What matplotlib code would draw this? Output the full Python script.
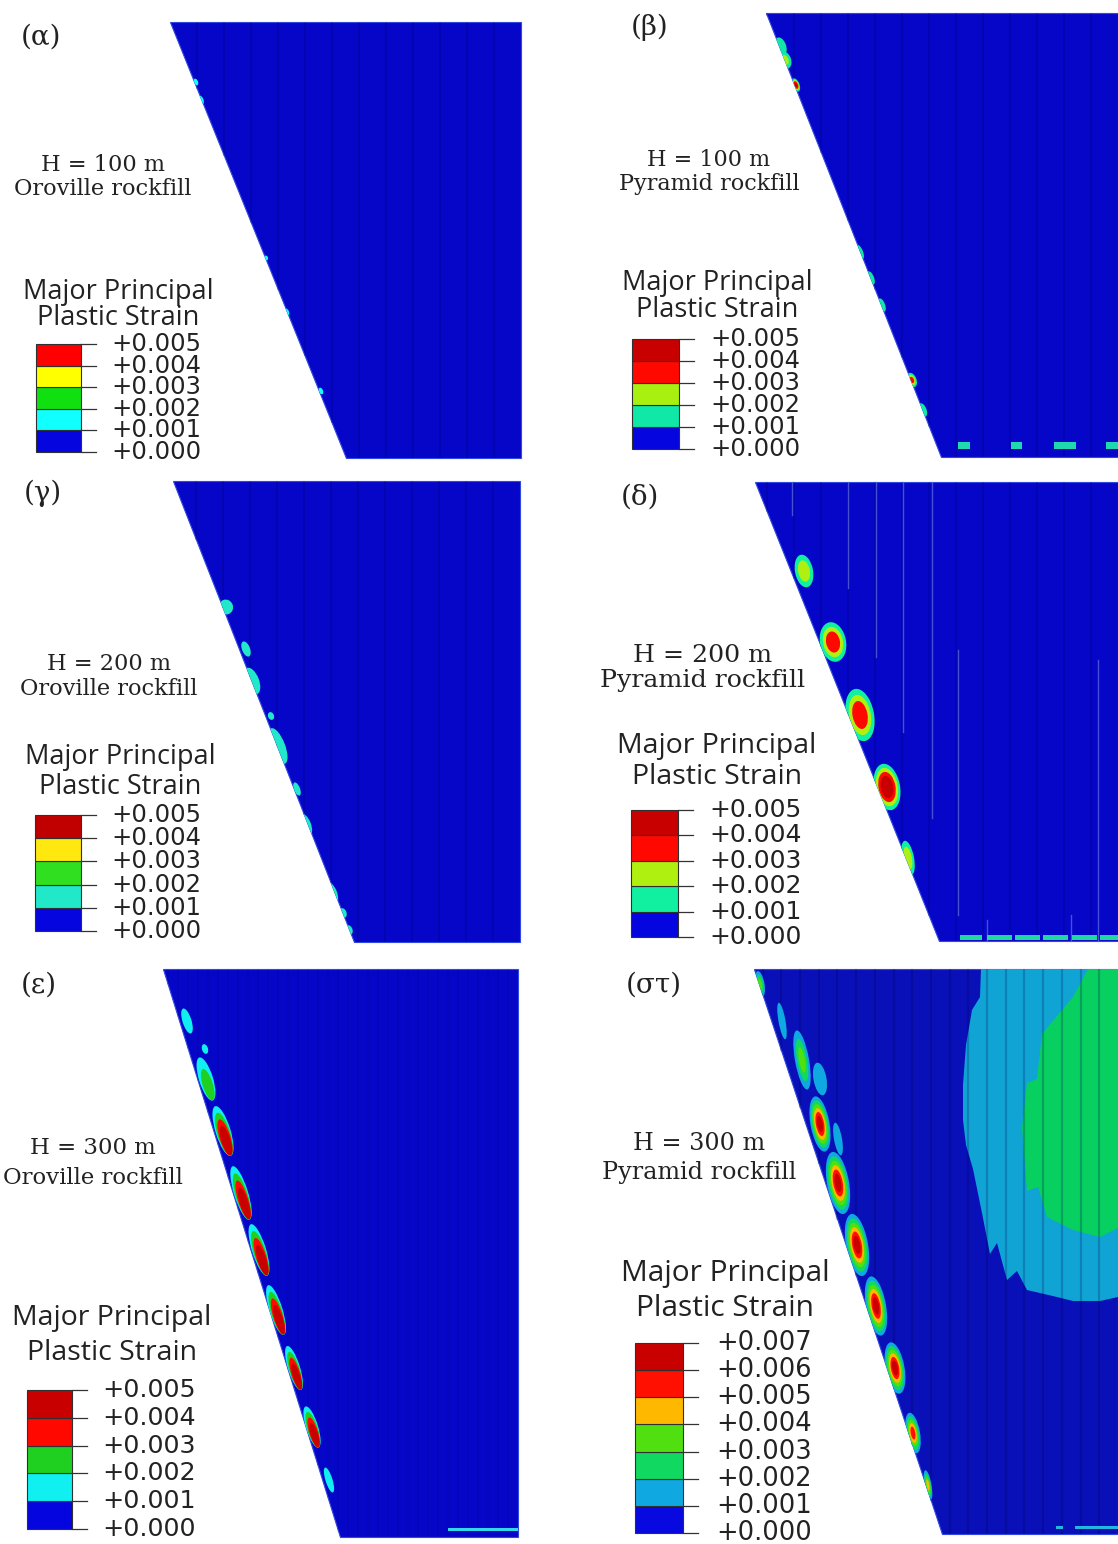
import numpy as np
import matplotlib
matplotlib.use('Agg')
import matplotlib.pyplot as plt
from matplotlib.patches import Polygon, Ellipse, Rectangle

BLUE = '#0606c8'

# panel outlines, picture pixels: top-left x, top y, right x, bottom y, bottom-left x
panel_names = ['(α)', '(β)', '(γ)', '(δ)', '(ε)', '(στ)']
panel_top_left = [170, 766, 173, 755, 163, 754]
panel_bottom_left = [346, 941, 354, 939, 340, 942]
panel_right = [521, 1118, 520, 1118, 518, 1118]
panel_top = [22, 13, 481, 482, 969, 969]
panel_bottom = [458, 457, 942, 941, 1537, 1534]
panel_label_x = [41, 650, 43, 640, 39, 654]
panel_label_y = [37, 27, 493, 497, 985, 985]
mesh_step = [27, 27, 27, 27, 10, 18.7]
# how fast the inner bands shrink and slide down a patch, how much a patch leans
band_shrink = [0.85, 0.85, 0.85, 0.7, 0.55, 0.85]
band_shift = [0, 0, 0, 0, 0.25, 0]
patch_lean = [1, 1, 1, 0.5, 1, 0.55]

# captions
cap_h = ['H = 100 m', 'H = 100 m', 'H = 200 m', 'H = 200 m', 'H = 300 m', 'H = 300 m']
cap_rock = ['Oroville rockfill', 'Pyramid rockfill', 'Oroville rockfill',
            'Pyramid rockfill', 'Oroville rockfill', 'Pyramid rockfill']
cap_x = [103, 709, 109, 703, 93, 699]
cap_y1 = [165, 160, 664, 655, 1148, 1143]
cap_y2 = [189, 184, 689, 681, 1178, 1173]
cap_size = [16.2, 16, 16.2, 18.2, 16.4, 17.2]

# legends
leg_title_x = [118, 717, 120, 717, 112, 725]
leg_title_y1 = [292, 283, 757, 746, 1318, 1274]
leg_title_y2 = [318, 310, 787, 777, 1353, 1308]
leg_left = [36, 632, 35, 631, 27, 635]
leg_width = [45, 47, 46, 47, 45, 48]
leg_top = [344, 339, 815, 810, 1390, 1343]
leg_bottom = [452, 449, 931, 937, 1529, 1533]
leg_label_x = [111, 710, 111, 709, 102, 716]
leg_title_size = [19.5, 19.5, 19.5, 20.5, 20.5, 21.5]
leg_label_size = [17.5, 17.5, 17.5, 18, 18.3, 18.5]
leg_values = [['+0.005', '+0.004', '+0.003', '+0.002', '+0.001', '+0.000'],
              ['+0.005', '+0.004', '+0.003', '+0.002', '+0.001', '+0.000'],
              ['+0.005', '+0.004', '+0.003', '+0.002', '+0.001', '+0.000'],
              ['+0.005', '+0.004', '+0.003', '+0.002', '+0.001', '+0.000'],
              ['+0.005', '+0.004', '+0.003', '+0.002', '+0.001', '+0.000'],
              ['+0.007', '+0.006', '+0.005', '+0.004', '+0.003', '+0.002', '+0.001', '+0.000']]
# bottom band first
leg_colors = [['#0505e0', '#10ffff', '#10e010', '#ffff00', '#ff0000'],
              ['#0505e0', '#10e8a8', '#a8f010', '#ff0800', '#c80000'],
              ['#0505e0', '#20e8c8', '#30e020', '#ffe810', '#c00000'],
              ['#0505e0', '#10f0a0', '#b0f010', '#ff0800', '#c80000'],
              ['#0505e0', '#10f0f0', '#20d020', '#ff0800', '#c80000'],
              ['#0808e0', '#10a8e0', '#10d860', '#50e010', '#ffb800', '#ff1000', '#c80000']]

# strain patches along the slope: centre, size, peak strain
a_x = [196, 201, 266, 287, 321]
a_y = [82, 100, 258, 312, 391]
a_w = [4, 5, 4, 4, 4]
a_h = [7, 9, 5, 7, 7]
a_peak = [0.001, 0.001, 0.001, 0.001, 0.001]

b_x = [781, 785, 796, 860, 871, 882, 912, 923]
b_y = [46, 60, 85, 252, 278, 305, 380, 410]
b_w = [10, 12, 7, 6, 6, 6, 9, 7]
b_h = [18, 18, 14, 15, 14, 14, 15, 14]
b_peak = [0.001, 0.002, 0.004, 0.001, 0.001, 0.001, 0.003, 0.001]

g_x = [226, 246, 252, 271, 278, 297, 305, 332, 343, 349]
g_y = [607, 649, 681, 716, 746, 789, 825, 893, 913, 930]
g_w = [14, 8, 14, 6, 14, 6, 12, 10, 7, 7]
g_h = [15, 16, 28, 8, 38, 14, 24, 22, 10, 10]
g_peak = [0.001, 0.001, 0.001, 0.001, 0.001, 0.001, 0.001, 0.002, 0.001, 0.001]

d_x = [804, 833, 860, 887, 908]
d_y = [571, 642, 715, 787, 858]
d_w = [18, 26, 28, 26, 12]
d_h = [33, 40, 53, 47, 35]
d_peak = [0.002, 0.003, 0.003, 0.004, 0.002]

e_x = [187, 205, 206, 223, 241, 259, 276, 294, 312, 329]
e_y = [1021, 1049, 1079, 1131, 1193, 1250, 1310, 1368, 1427, 1480]
e_w = [9, 6, 14, 15, 14, 14, 13, 12, 12, 7]
e_h = [26, 10, 45, 52, 56, 54, 52, 46, 43, 26]
e_peak = [0.001, 0.001, 0.002, 0.004, 0.004, 0.004, 0.004, 0.004, 0.004, 0.001]

s_x = [782, 802, 820, 820, 838, 838, 857, 876, 895, 913, 928, 760]
s_y = [1021, 1060, 1079, 1124, 1139, 1183, 1245, 1306, 1368, 1433, 1485, 984]
s_w = [7, 14, 13, 19, 8, 22, 22, 20, 19, 14, 7, 9]
s_h = [37, 60, 33, 56, 33, 63, 63, 60, 52, 41, 30, 26]
s_peak = [0.001, 0.003, 0.001, 0.007, 0.001, 0.007, 0.007, 0.007, 0.006, 0.005, 0.004, 0.003]

patch_x = [a_x, b_x, g_x, d_x, e_x, s_x]
patch_y = [a_y, b_y, g_y, d_y, e_y, s_y]
patch_w = [a_w, b_w, g_w, d_w, e_w, s_w]
patch_h = [a_h, b_h, g_h, d_h, e_h, s_h]
patch_peak = [a_peak, b_peak, g_peak, d_peak, e_peak, s_peak]

# strips on the base
b_strip = [(958, 970), (1011, 1022), (1054, 1076), (1106, 1118)]
d_strip = [(960, 982), (987, 1012), (1015, 1040), (1043, 1068), (1072, 1097), (1100, 1118)]
e_strip = [(448, 518)]
s_strip = [(1056, 1063), (1075, 1118)]
strips = [[], b_strip, [], d_strip, e_strip, s_strip]
strip_y = [0, 445, 0, 937, 1529, 1527]
strip_th = [0, 7, 0, 5, 3, 3]
strip_col = [BLUE, '#20d8b0', BLUE, '#20d8a0', '#30d8f0', '#20b8e0']

# pale streaks in (δ): x, y from, y to
streak_x = [792, 848, 876, 903, 932, 958, 1098, 1071, 987]
streak_y0 = [482, 482, 482, 482, 482, 650, 660, 915, 920]
streak_y1 = [515, 588, 657, 732, 818, 915, 941, 941, 941]

# elastic-plastic zones in (στ)
sky_x = [981, 980, 972, 966, 963, 963, 966, 973, 982, 990, 997, 1007, 1017, 1027, 1057, 1073, 1100, 1118, 1118]
sky_y = [969, 997, 1010, 1045, 1085, 1120, 1145, 1169, 1213, 1254, 1243, 1280, 1271, 1290, 1297, 1301, 1301, 1297, 969]
green_x = [1088, 1073, 1042, 1037, 1027, 1022, 1027, 1038, 1047, 1073, 1100, 1118, 1118]
green_y = [969, 997, 1034, 1079, 1083, 1128, 1191, 1187, 1217, 1230, 1237, 1228, 969]

plt.rcParams['font.family'] = ['Open Sans', 'DejaVu Sans']

fig = plt.figure(figsize=(11.18, 15.44), dpi=100)
ax = fig.add_axes([0, 0, 1, 1])
ax.set_xlim(0, 1118)
ax.set_ylim(1544, 0)
ax.axis('off')

for i in range(6):
    xl, xb, xr = panel_top_left[i], panel_bottom_left[i], panel_right[i]
    yt, yb = panel_top[i], panel_bottom[i]
    body = Polygon([(xl, yt), (xr, yt), (xr, yb), (xb, yb)], closed=True,
                   fc='#0a10b8' if i == 5 else BLUE, ec='#3048e0', lw=0.8, zorder=1)
    ax.add_patch(body)

    if i == 5:
        p1 = Polygon(list(zip(sky_x, sky_y)), fc='#10a4d4', ec='none', zorder=2)
        p2 = Polygon(list(zip(green_x, green_y)), fc='#08d060', ec='none', zorder=3)
        ax.add_patch(p1)
        ax.add_patch(p2)
        p1.set_clip_path(body)
        p2.set_clip_path(body)

    # mesh lines, cut at the slope
    for x in np.arange(xr - mesh_step[i], xl, -mesh_step[i]):
        y1 = yt + (x - xl) / (xb - xl) * (yb - yt) if x < xb else yb
        ax.plot([x, x], [yt, y1], color='#000050', alpha=0.22 if i != 4 else 0.1,
                lw=1.6 if i == 5 else 1.2, zorder=4, solid_capstyle='butt')

    # strain patches, one nested ellipse per band passed
    bands = leg_colors[i]
    slope = -np.degrees(np.arctan((xb - xl) / (yb - yt)))
    for x, y, w, h, peak in zip(patch_x[i], patch_y[i], patch_w[i], patch_h[i], patch_peak[i]):
        n = min(int(round(peak / 0.001)), len(bands) - 1)
        for k in range(n):
            f = 1 - k / n * band_shrink[i]
            dy = band_shift[i] * h * k / n
            dx = dy * (xb - xl) / (yb - yt)
            e = Ellipse((x + dx, y + dy), w * f, h * f, angle=slope * patch_lean[i],
                        fc=bands[k + 1], ec='none', zorder=5 + k)
            ax.add_patch(e)
            e.set_clip_path(body)

    for x0, x1 in strips[i]:
        ax.add_patch(Rectangle((x0, strip_y[i] - strip_th[i] / 2), x1 - x0, strip_th[i],
                               fc=strip_col[i], ec='none', zorder=14))

    # text
    ax.text(panel_label_x[i], panel_label_y[i], panel_names[i], family='DejaVu Serif',
            fontsize=20, ha='center', va='center', color='#222222')
    ax.text(cap_x[i], cap_y1[i], cap_h[i], family='DejaVu Serif', fontsize=cap_size[i],
            ha='center', va='center', color='#222222')
    ax.text(cap_x[i], cap_y2[i], cap_rock[i], family='DejaVu Serif', fontsize=cap_size[i],
            ha='center', va='center', color='#222222')
    ax.text(leg_title_x[i], leg_title_y1[i], 'Major Principal', fontsize=leg_title_size[i],
            ha='center', va='center', color='#222222')
    ax.text(leg_title_x[i], leg_title_y2[i], 'Plastic Strain', fontsize=leg_title_size[i],
            ha='center', va='center', color='#222222')

    # legend bar
    labels = leg_values[i]
    edges = np.linspace(leg_bottom[i], leg_top[i], len(labels))
    for k, col in enumerate(leg_colors[i]):
        ax.add_patch(Rectangle((leg_left[i], edges[k + 1]), leg_width[i], edges[k] - edges[k + 1],
                               fc=col, ec='#303030', lw=0.8, zorder=3))
    for k, lab in enumerate(labels[::-1]):
        ax.plot([leg_left[i] + leg_width[i], leg_left[i] + leg_width[i] + 15], [edges[k], edges[k]],
                color='#333333', lw=0.9, zorder=3)
        ax.text(leg_label_x[i], edges[k], lab, family='DejaVu Sans', fontsize=leg_label_size[i],
                ha='left', va='center', color='#222222')

# pale streaks of (δ)
for x, y0, y1 in zip(streak_x, streak_y0, streak_y1):
    ax.plot([x, x], [y0, y1], color='#6070e0', lw=1.0, alpha=0.7, zorder=4)

fig.savefig('out.png', dpi=100)
